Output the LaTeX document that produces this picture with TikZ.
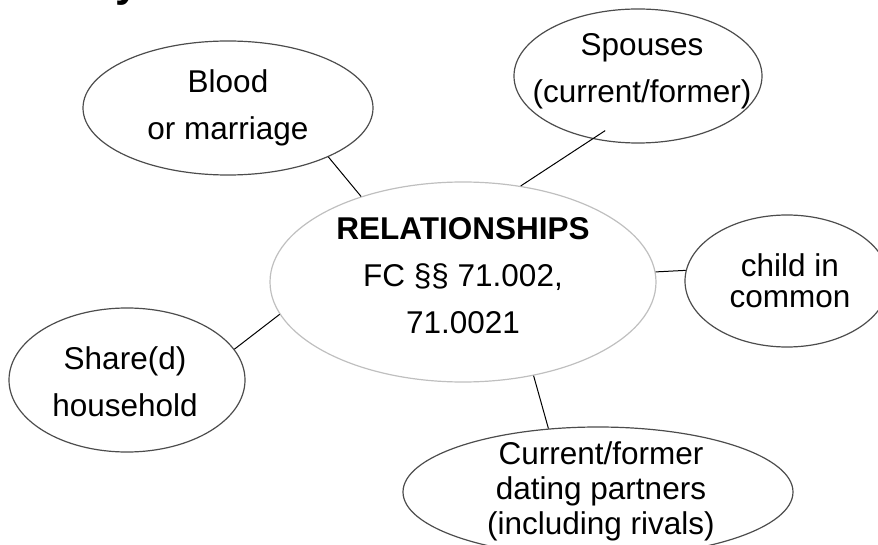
\documentclass[tikz,border=0pt]{standalone}
\usepackage{fontspec}
\setmainfont{Liberation Sans}
\usetikzlibrary{shapes.geometric,calc}

\begin{document}
\begin{tikzpicture}[
 x=0.5pt,y=-0.5pt,
 bubble/.style={draw=black!70,ellipse,inner sep=0pt,line width=0.6pt},
 hub/.style={draw=black!25,ellipse,inner sep=0pt,line width=0.6pt},
 txt/.style={align=center,inner sep=0pt,font=\fontsize{15.75}{23.5}\selectfont},
 link/.style={draw=black,line width=0.5pt}
]
\useasboundingbox (0,0) rectangle (878,545);
\node (title) [anchor=base west,inner sep=0pt,font=\fontsize{21.5}{26}\selectfont\bfseries] at (3,-3) {Family Violence};
% bubbles
\node (relationships) [hub,minimum width=193pt,minimum height=100pt] at (463,282) {};
\node (blood) [bubble,minimum width=145pt,minimum height=67pt] at (228,108) {};
\node (spouses) [bubble,minimum width=124pt,minimum height=67pt] at (638,76) {};
\node (child) [bubble,minimum width=102pt,minimum height=66pt] at (787,281) {};
\node (household) [bubble,minimum width=118pt,minimum height=72pt] at (127,380) {};
\node (dating) [bubble,minimum width=195pt,minimum height=65pt] at (598,492) {};
% texts
\node (relationships-text) [txt] at (463,276) {\textbf{RELATIONSHIPS}\\FC §§ 71.002,\\71.0021};
\node (blood-text) [txt] at (228,108) {Blood\\or marriage};
\node (spouses-text) [txt] at (642,71) {Spouses\\(current/former)};
\node (child-text) [txt,font=\fontsize{15.75}{15.5}\selectfont] at (790,281) {child in\\common};
\node (household-text) [txt] at (125,382) {Share(d)\\household};
\node (dating-text) [txt,font=\fontsize{15.75}{17.5}\selectfont] at (601,491) {Current/former\\dating partners\\(including rivals)};
% links
\draw [link] (blood.-26) -- (relationships.140);
\draw [link] ($(spouses.center)!0.85!(spouses.-121)$) -- (relationships.59);
\draw [link] (relationships.3) -- (child.174);
\draw [link] (household.16) -- (relationships.-170);
\draw [link] (relationships.-53) -- (dating.128);
\end{tikzpicture}
\end{document}
